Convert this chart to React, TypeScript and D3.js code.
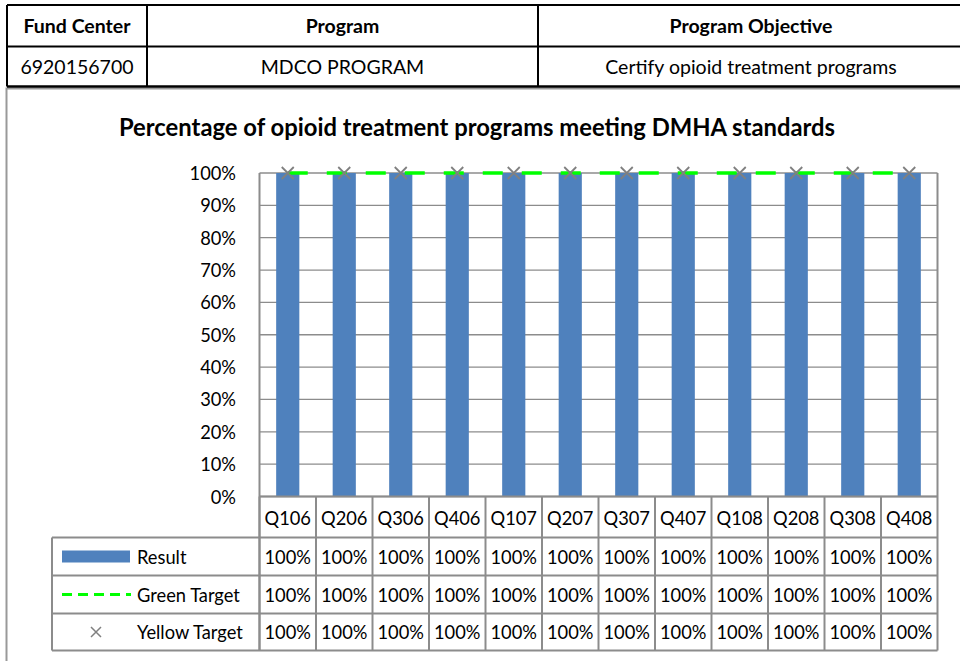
import React from 'react';
import { scaleBand, scaleLinear, range, line } from 'd3';

// chart values
const quarters = ['Q106', 'Q206', 'Q306', 'Q406', 'Q107', 'Q207', 'Q307', 'Q407', 'Q108', 'Q208', 'Q308', 'Q408'];
const result = [1, 1, 1, 1, 1, 1, 1, 1, 1, 1, 1, 1];
const greenTarget = [1, 1, 1, 1, 1, 1, 1, 1, 1, 1, 1, 1];
const yellowTarget = [1, 1, 1, 1, 1, 1, 1, 1, 1, 1, 1, 1];
const yTicks = range(0, 11).map((d) => d / 10);

const headerCols = ['Fund Center', 'Program', 'Program Objective'];
const headerVals = ['6920156700', 'MDCO PROGRAM', 'Certify opioid treatment programs'];
const seriesNames = ['Result', 'Green Target', 'Yellow Target'];

const FONT = 'Lato, "Open Sans", sans-serif';
const GRID = '#8c8c8c';
const BAR = '#4f81bd';
const GREEN = '#00ff00';
const XMARK = '#808080';
const FS = 18.3;

export default function App() {
  const plot = { left: 259.5, right: 937.5, top: 173, bottom: 496.5 };
  const x = scaleBand<string>().domain(quarters).range([plot.left, plot.right]);
  const y = scaleLinear().domain([0, 1]).range([plot.bottom, plot.top]);
  const barW = x.bandwidth() * 0.41;
  const cx = (q: string) => (x(q) as number) + x.bandwidth() / 2;

  // header table columns
  const hx = [7, 147, 538, 964];
  const hy = [5, 46.5, 86.5];

  // data table rows under the plot
  const rowY = [plot.bottom, 537.5, 575.5, 613.5, 650.5];
  const legendLeft = 52;

  const greenLine = line<number>()
    .x((_, i) => cx(quarters[i]))
    .y((d) => y(d));

  const series = [result, greenTarget, yellowTarget];

  return (
    <svg width={960} height={661} style={{ position: 'absolute', left: 0, top: 0 }} fontFamily={FONT}>
      <rect width={960} height={661} fill="#fff" />

      {/* chart frame */}
      <rect x={6.5} y={88.5} width={1000} height={700} fill="none" stroke="#999" strokeWidth={2} />

      {/* header table */}
      <g>
        {hy.map((yy, i) => (
          <line key={'hy' + i} x1={hx[0]} x2={hx[3]} y1={yy} y2={yy} stroke="#000" strokeWidth={i === 2 ? 2.5 : 2} />
        ))}
        {hx.map((xx, i) => (
          <line key={'hx' + i} x1={xx} x2={xx} y1={hy[0]} y2={hy[2]} stroke="#000" strokeWidth={2} />
        ))}
        {headerCols.map((t, i) => (
          <text key={'hc' + i} x={(hx[i] + hx[i + 1]) / 2} y={(hy[0] + hy[1]) / 2} textAnchor="middle"
            dominantBaseline="central" fontWeight="bold" fontSize={19.5}>{t}</text>
        ))}
        {headerVals.map((t, i) => (
          <text key={'hv' + i} x={(hx[i] + hx[i + 1]) / 2} y={(hy[1] + hy[2]) / 2} textAnchor="middle"
            dominantBaseline="central" fontSize={19.5}>{t}</text>
        ))}
      </g>

      {/* title */}
      <text x={477} y={127} textAnchor="middle" dominantBaseline="central" fontWeight="bold" fontSize={23.8}>
        Percentage of opioid treatment programs meeting DMHA standards
      </text>

      {/* gridlines and y labels */}
      {yTicks.map((t) => (
        <g key={'t' + t}>
          <line x1={plot.left} x2={plot.right} y1={y(t)} y2={y(t)} stroke={GRID} strokeWidth={1.3} />
          <text x={236} y={y(t)} textAnchor="end" dominantBaseline="central" fontSize={FS}>
            {Math.round(t * 100) + '%'}
          </text>
        </g>
      ))}
      <line x1={plot.left} x2={plot.left} y1={plot.top} y2={rowY[4]} stroke={GRID} strokeWidth={2} />
      <line x1={plot.right} x2={plot.right} y1={plot.top} y2={rowY[4]} stroke={GRID} strokeWidth={2} />

      {/* bars */}
      {quarters.map((q, i) => (
        <rect key={'b' + q} x={cx(q) - barW / 2} y={y(result[i])} width={barW}
          height={y(0) - y(result[i])} fill={BAR} />
      ))}

      {/* green target */}
      <path d={greenLine(greenTarget) as string} fill="none" stroke={GREEN} strokeWidth={3.5}
        strokeDasharray="20 19" />

      {/* yellow target markers */}
      {quarters.map((q, i) => {
        const px = cx(q);
        const py = y(yellowTarget[i]);
        const s = 6;
        return (
          <path key={'x' + q} d={`M${px - s},${py - s}L${px + s},${py + s}M${px - s},${py + s}L${px + s},${py - s}`}
            stroke={XMARK} strokeWidth={1.8} fill="none" />
        );
      })}

      {/* data table */}
      {rowY.map((ry, i) => (
        <line key={'ry' + i} x1={i === 0 ? plot.left : legendLeft} x2={plot.right} y1={ry} y2={ry}
          stroke={GRID} strokeWidth={2} />
      ))}
      {quarters.map((q) => (
        <line key={'cx' + q} x1={x(q) as number} x2={x(q) as number} y1={rowY[0]} y2={rowY[4]}
          stroke={GRID} strokeWidth={2} />
      ))}
      <line x1={legendLeft} x2={legendLeft} y1={rowY[1]} y2={rowY[4]} stroke={GRID} strokeWidth={2} />

      {quarters.map((q) => (
        <text key={'q' + q} x={cx(q)} y={(rowY[0] + rowY[1]) / 2 + 1} textAnchor="middle"
          dominantBaseline="central" fontSize={FS}>{q}</text>
      ))}
      {series.map((s, r) =>
        quarters.map((q, i) => (
          <text key={'v' + r + q} x={cx(q)} y={(rowY[r + 1] + rowY[r + 2]) / 2} textAnchor="middle"
            dominantBaseline="central" fontSize={FS}>{Math.round(s[i] * 100) + '%'}</text>
        ))
      )}

      {/* legend keys */}
      {seriesNames.map((n, r) => {
        const my = (rowY[r + 1] + rowY[r + 2]) / 2;
        return (
          <g key={'l' + n}>
            {r === 0 && <rect x={62} y={my - 6} width={68} height={12} fill={BAR} />}
            {r === 1 && (
              <line x1={62} x2={131} y1={my} y2={my} stroke={GREEN} strokeWidth={3} strokeDasharray="10 6" />
            )}
            {r === 2 && (
              <path d={`M${91},${my - 5}L${101},${my + 5}M${91},${my + 5}L${101},${my - 5}`}
                stroke={XMARK} strokeWidth={1.5} />
            )}
            <text x={137} y={my} dominantBaseline="central" fontSize={FS}>{n}</text>
          </g>
        );
      })}
    </svg>
  );
}
